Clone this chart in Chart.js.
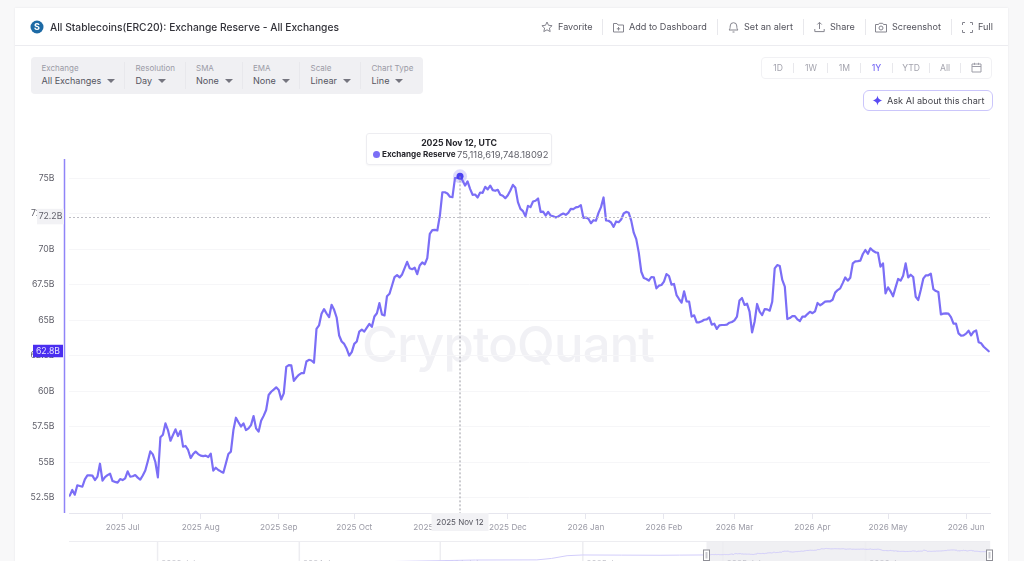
<!DOCTYPE html>
<html>
<head>
<meta charset="utf-8">
<title>All Stablecoins(ERC20): Exchange Reserve - All Exchanges</title>
<script src="https://cdn.jsdelivr.net/npm/chart.js@4"></script>
<style>
  html,body { margin:0; padding:0; width:1024px; height:561px; overflow:hidden; background:#f8f8f9; font-family:Inter,sans-serif; }
  #card { position:absolute; left:15px; top:8px; width:993px; height:560px; background:#fff; box-shadow:0 0 2px rgba(30,30,60,.08); }
  #head-rule { position:absolute; left:15px; top:45px; width:993px; height:1px; background:#ececf0; }
  #watermark { position:absolute; left:362px; top:312px; font-size:49px; font-weight:500; color:#f1f1f5; letter-spacing:-.8px; line-height:66px; }
  canvas { position:absolute; left:0; }
  #chart-main { top:0; }
  #chart-nav { left:69px; top:541px; }
  .t { position:absolute; white-space:nowrap; line-height:12px; }
  .act { font-size:9.1px; color:#53535c; top:21px; }
  .sep { position:absolute; width:1px; background:#e8e8ec; }
  .lab { font-size:8px; color:#9b9ba6; top:62px; }
  .val { font-size:9.05px; color:#55555f; top:75px; }
  .caret { position:absolute; top:79px; width:0; height:0; border-left:4px solid transparent; border-right:4px solid transparent; border-top:4px solid #75757f; }
  .rng { font-size:8.6px; color:#a4a4ae; top:62px; transform:translateX(-50%); }
  svg { position:absolute; fill:none; stroke:#85858e; stroke-width:1; }
  #controls { position:absolute; left:31px; top:57px; width:392px; height:37px; background:#f0f0f3; border-radius:4px; }
  #ranges { position:absolute; left:761px; top:57px; width:231px; height:22px; border:1px solid #f1f1f4; border-radius:4px; box-sizing:border-box; }
  #ask { position:absolute; left:863px; top:90px; width:130px; height:21px; border:1px solid #cbc6fb; border-radius:6px; box-sizing:border-box; }
  #tip { position:absolute; width:186px; height:32px; background:#fff; border:1px solid #ededf1; border-radius:3px; box-sizing:border-box; box-shadow:0 1px 2px rgba(30,30,60,.04); color:#26262c; font-size:8.7px; }
  #tip div { position:absolute; white-space:nowrap; line-height:11px; }
</style>
</head>
<body>
<div id="card"></div>
<div id="head-rule"></div>
<div id="watermark">CryptoQuant</div>
<canvas id="chart-main" width="1024" height="561"></canvas>
<canvas id="chart-nav" width="926" height="20"></canvas>

<svg style="left:30px;top:20px;stroke:none" width="14" height="14"><circle cx="7" cy="7" r="6.5" fill="#1d6aa5"/><text x="7" y="10.2" text-anchor="middle" font-size="9" font-weight="700" fill="#fff" font-family="Inter">S</text></svg>
<div class="t" style="left:50px;top:21px;font-size:10.25px;font-weight:500;color:#33333a">All Stablecoins(ERC20): Exchange Reserve - All Exchanges</div>

<svg style="left:541px;top:21px" width="12" height="12"><path d="M6 1l1.5 3.3 3.6.4-2.7 2.4.8 3.5L6 8.8l-3.2 1.8.8-3.5L.9 4.7l3.6-.4z"/></svg>
<div class="t act" style="left:558px">Favorite</div><div class="sep" style="left:602px;top:19px;height:16px"></div>
<svg style="left:613px;top:22px" width="11" height="11"><path d="M.5 1.5h3.5l1 1.5h5.5v7h-10zM5.5 5v3.5M3.8 6.8h3.4"/></svg>
<div class="t act" style="left:629px">Add to Dashboard</div><div class="sep" style="left:717px;top:19px;height:16px"></div>
<svg style="left:728px;top:21px" width="11" height="12"><path d="M1 9c1-1 1.2-2 1.2-4a3.3 3.3 0 0 1 6.6 0c0 2 .2 3 1.2 4zM4.5 11h2"/></svg>
<div class="t act" style="left:744px">Set an alert</div><div class="sep" style="left:803px;top:19px;height:16px"></div>
<svg style="left:814px;top:21px" width="11" height="12"><path d="M5.5 8V1.5M3.3 3.5l2.2-2.2 2.2 2.2M.8 8v2.6h9.4V8"/></svg>
<div class="t act" style="left:830px">Share</div><div class="sep" style="left:865px;top:19px;height:16px"></div>
<svg style="left:875px;top:22px" width="12" height="11"><path d="M.5 2.5h3l.8-1.2h3.4l.8 1.2h3v7.5h-11z"/><circle cx="6" cy="6" r="2"/></svg>
<div class="t act" style="left:892px">Screenshot</div><div class="sep" style="left:951px;top:19px;height:16px"></div>
<svg style="left:962px;top:22px" width="11" height="11"><path d="M.5 3V.5H3M8 .5h2.5V3M10.5 8v2.5H8M3 10.5H.5V8"/></svg>
<div class="t act" style="left:978px">Full</div>

<div id="controls"></div>
<div class="t lab" style="left:41.5px">Exchange</div><div class="t val" style="left:41.5px">All Exchanges</div><div class="caret" style="left:107px"></div>
<div class="sep" style="left:124px;top:62px;height:27px"></div>
<div class="t lab" style="left:135.5px">Resolution</div><div class="t val" style="left:135.5px">Day</div><div class="caret" style="left:158px"></div>
<div class="sep" style="left:185px;top:62px;height:27px"></div>
<div class="t lab" style="left:196px">SMA</div><div class="t val" style="left:196px">None</div><div class="caret" style="left:225px"></div>
<div class="sep" style="left:242px;top:62px;height:27px"></div>
<div class="t lab" style="left:253px">EMA</div><div class="t val" style="left:253px">None</div><div class="caret" style="left:282px"></div>
<div class="sep" style="left:299px;top:62px;height:27px"></div>
<div class="t lab" style="left:310.5px">Scale</div><div class="t val" style="left:310.5px">Linear</div><div class="caret" style="left:343px"></div>
<div class="sep" style="left:360px;top:62px;height:27px"></div>
<div class="t lab" style="left:371.5px">Chart Type</div><div class="t val" style="left:371.5px">Line</div><div class="caret" style="left:395px"></div>

<div id="ranges"></div>
<div class="t rng" style="left:778px">1D</div><div class="sep" style="left:793px;top:63px;height:10px"></div>
<div class="t rng" style="left:811px">1W</div><div class="sep" style="left:827px;top:63px;height:10px"></div>
<div class="t rng" style="left:844.5px">1M</div><div class="sep" style="left:860px;top:63px;height:10px"></div>
<div class="t rng" style="left:876.5px;color:#7b6ef6;font-weight:500">1Y</div><div class="sep" style="left:892px;top:63px;height:10px"></div>
<div class="t rng" style="left:911px">YTD</div><div class="sep" style="left:929px;top:63px;height:10px"></div>
<div class="t rng" style="left:945px">All</div><div class="sep" style="left:960px;top:63px;height:10px"></div>
<svg style="left:971px;top:62px;stroke:#9d9da7" width="11" height="11"><path d="M1 2h9v8H1zM1 4.5h9M3.5 .8v2M7.5 .8v2"/></svg>

<div id="ask"></div>
<svg style="left:872px;top:95px;stroke:none" width="11" height="11"><path d="M5.5 .5c.6 3 1.6 4.2 5 5-3.4.8-4.4 2-5 5-.6-3-1.6-4.2-5-5 3.4-.8 4.4-2 5-5z" fill="#5a4cf3"/></svg>
<div class="t" style="left:887px;top:94.5px;font-size:9.15px;color:#44444c">Ask AI about this chart</div>

<div id="tip">
  <div style="left:0;right:0;top:4px;text-align:center;font-weight:700">2025 Nov 12, UTC</div>
  <div style="left:6px;top:17px;width:7px;height:7px;border-radius:50%;background:#7b6ef6"></div>
  <div style="left:15px;top:15px;font-weight:700;font-size:8.15px">Exchange Reserve</div>
  <div style="left:90px;top:15px;color:#62626b;font-size:9.4px">75,118,619,748.18092</div>
</div>

<script>
// ─── Data ─────────────────────────────────────────────────────────────────────
// Daily reserve in billions, first entry is 2025 Jun 10
const RESERVE = [
  52.63,53.03,52.7,53.36,53.31,53.26,53.78,54.06,54.06,54.04,
  53.73,53.97,54.88,53.69,53.94,54.08,54.18,53.66,53.6,53.55,
  53.8,53.73,53.85,54.34,53.97,54.0,54.08,53.9,53.76,54.05,
  54.4,55.05,55.75,55.54,55.0,53.92,56.74,56.92,57.72,57.25,
  56.5,56.9,57.3,56.83,57.2,56.08,56.13,55.85,55.28,55.56,
  55.73,55.56,55.45,55.42,55.45,55.35,55.59,54.4,54.6,54.44,
  54.34,54.25,54.9,55.56,55.73,57.25,58.12,57.8,57.5,57.72,
  57.25,57.37,57.6,58.24,57.37,57.14,57.9,58.25,58.66,59.72,
  59.95,60.1,60.26,60.07,59.41,59.83,61.7,61.82,61.8,60.72,
  60.95,61.14,61.26,61.26,62.08,62.2,62.15,61.99,64.38,64.62,
  65.44,65.77,65.46,65.2,66.07,65.72,65.18,63.91,63.49,63.32,
  62.97,62.5,62.74,63.32,63.49,64.19,64.33,64.19,64.47,64.73,
  64.52,65.25,65.48,66.19,65.39,65.32,66.68,66.85,67.43,68.02,
  68.16,68.0,68.21,68.65,69.1,68.65,68.58,68.68,68.23,68.84,
  69.05,68.93,69.36,71.07,71.33,71.35,71.31,72.36,74.0,74.0,
  73.91,73.68,73.65,74.99,75.01,75.11861974818,74.83,74.47,74.76,74.24,
  73.82,73.84,73.63,73.98,73.96,74.38,74.2,74.47,74.15,74.1,
  74.17,73.82,73.75,73.58,73.79,74.12,74.52,74.31,73.3,72.83,
  72.67,72.31,73.04,72.95,73.35,73.4,73.56,72.62,72.64,72.36,
  72.62,72.36,72.31,72.22,72.29,72.41,72.5,72.41,72.55,72.83,
  72.81,72.93,72.97,73.09,72.2,72.22,72.13,71.82,72.03,71.99,
  72.55,72.95,73.63,72.01,71.99,71.87,71.56,71.94,71.89,72.08,
  72.5,72.62,72.55,72.0,71.15,70.7,69.75,68.4,67.96,67.89,
  67.77,68.03,68.0,67.23,67.42,67.47,67.7,68.24,68.1,67.49,
  67.54,66.76,66.48,66.22,67.02,66.31,66.29,65.24,65.33,64.84,
  64.84,64.91,65.02,65.05,65.19,64.67,64.74,64.37,64.62,64.65,
  64.65,64.67,64.81,64.86,64.98,65.24,66.38,66.55,66.06,66.15,
  65.59,64.13,64.88,66.13,65.59,65.35,65.77,65.75,65.66,66.29,
  68.64,68.87,68.8,67.82,67.35,65.07,65.14,65.28,65.28,65.05,
  64.93,65.24,65.24,65.42,65.58,65.48,65.61,66.2,66.04,66.15,
  66.29,66.31,66.31,66.43,66.93,67.11,67.23,67.6,68.0,67.77,
  67.98,68.99,69.13,69.15,69.18,69.65,69.93,69.67,70.05,69.88,
  69.77,69.74,68.76,68.99,66.88,67.3,67.02,66.67,67.3,67.89,
  67.77,68.12,68.99,68.0,68.19,68.03,66.64,66.41,67.11,67.91,
  68.15,68.15,68.26,67.18,67.04,66.97,65.4,65.45,65.47,65.45,
  65.21,64.74,64.74,64.06,63.9,63.92,64.04,64.25,63.92,64.18,
  64.27,63.43,63.36,63.12,62.96,62.8,
];

const Y_TICKS = [52.5,55,57.5,60,62.5,65,67.5,70,72.5,75];
const MONTH_DAYS = [21,52,83,113,144,174,205,236,264,295,325,356];
const MONTH_LABELS = ['2025 Jul','2025 Aug','2025 Sep','2025 Oct','2025 Nov','2025 Dec','2026 Jan','2026 Feb','2026 Mar','2026 Apr','2026 May','2026 Jun'];

const HOVER_DAY = 155;
const HOVER_LABEL = '2025 Nov 12';
const HOVER_LEVEL = 72.2;
const LAST_DAY = RESERVE.length - 1;

// Older history shown only in the range navigator (days before the first entry)
const HISTORY_DAYS = [-420,-298,-219,-200,-180,-160,-110,-60,-35];
const HISTORY_VALUES = [29,35,35.5,40.5,50,52.5,52,51.5,52];
const NAV_TICK_DAYS = [-709,-526,-344,-160,21,205];
const NAV_TICK_LABELS = ['2023 Jul','2024 Jan','2024 Jul','2025 Jan','2025 Jul','2026 Jan'];

// ─── Style ────────────────────────────────────────────────────────────────────
const LINE_COLOR = '#7b6ef6';
const GRID_COLOR = '#f6f6f8';
const AXIS_COLOR = '#e6e6ee';
const TICK_STYLE = { color:'#60606a', font:{family:'Inter', size:8.7} };

// Axis rail, crosshair and the readout boxes on both axes
const overlayPlugin = {
  id:'overlay',
  afterDatasetsDraw(chart) {
    const { ctx, chartArea:a, scales:{x,y} } = chart;
    const px = x.getPixelForValue(HOVER_DAY), py = y.getPixelForValue(HOVER_LEVEL);
    ctx.save();
    ctx.strokeStyle = '#9a9aa2'; ctx.lineWidth = 1; ctx.setLineDash([2,2]);
    ctx.beginPath();
    ctx.moveTo(px, y.getPixelForValue(RESERVE[HOVER_DAY]));
    ctx.lineTo(px, a.bottom);
    ctx.stroke();
    ctx.strokeStyle = '#bdbdc4';
    ctx.beginPath();
    ctx.moveTo(a.left, Math.round(py)-.5);
    ctx.lineTo(a.right, Math.round(py)-.5);
    ctx.stroke();
    ctx.setLineDash([]);
    ctx.strokeStyle = '#8f84f8'; ctx.lineWidth = 1.5;
    ctx.beginPath(); ctx.moveTo(a.left-4.5, a.top-1); ctx.lineTo(a.left-4.5, a.bottom); ctx.stroke();

    ctx.textAlign = 'center'; ctx.textBaseline = 'middle'; ctx.font = '8.7px Inter';
    const lastY = y.getPixelForValue(RESERVE[LAST_DAY]);
    ctx.fillStyle = '#f2f2f5'; ctx.fillRect(37, py-9, 27, 15.5);
    ctx.fillStyle = '#60606a'; ctx.fillText(HOVER_LEVEL.toFixed(1)+'B', 50.5, py-1);
    ctx.fillStyle = '#4a2ef0'; ctx.fillRect(33, lastY-6.5, 30, 12.5);
    ctx.fillStyle = '#e6e3ff'; ctx.fillText(RESERVE[LAST_DAY].toFixed(1)+'B', 48, lastY);
    ctx.fillStyle = '#f2f2f5'; ctx.fillRect(px-28.5, a.bottom, 57, 18);
    ctx.font = '8px Inter';
    ctx.fillStyle = '#55555f'; ctx.fillText(HOVER_LABEL, px, a.bottom+9.5);
    ctx.restore();
  }
};

// ─── Main chart ───────────────────────────────────────────────────────────────
const mainChart = new Chart(document.getElementById('chart-main').getContext('2d'), {
  type:'line',
  data:{ datasets:[
    {
      data: RESERVE.map((v,i)=>({x:i, y:v})),
      borderColor: LINE_COLOR, borderWidth:2.2, borderJoinStyle:'round', borderCapStyle:'round', tension:0,
      pointRadius: c => c.dataIndex===HOVER_DAY ? 3.5 : 0,
      pointBackgroundColor:'#4a3ff0',
      pointBorderWidth:0,
    },
    {
      // halo behind the hovered point
      data: [{x:HOVER_DAY, y:RESERVE[HOVER_DAY]}],
      showLine:false, pointRadius:7, pointBorderWidth:0,
      pointBackgroundColor:'rgba(123,110,246,0.25)',
    },
  ]},
  options:{
    responsive:false, animation:false, events:[],
    layout:{ padding:{ top:160, right:34, bottom:0, left:0 } },
    plugins:{ legend:{display:false}, tooltip:{enabled:false} },
    scales:{
      x:{
        type:'linear', bounds:'data', min:-0.3, max:365.5,
        afterBuildTicks: s => { s.ticks = MONTH_DAYS.map(v=>({value:v})); },
        afterFit: s => { s.height = 48; },
        ticks:{ color:'#9b9ba6', font:{family:'Inter', size:8.2}, padding:4, maxRotation:0, autoSkip:false,
          callback:(v,i)=>MONTH_LABELS[i] },
        grid:{ drawOnChartArea:false, color:AXIS_COLOR, tickLength:6 },
        border:{ color:AXIS_COLOR },
      },
      y:{
        bounds:'data', min:51.41, max:76.27,
        afterBuildTicks: s => { s.ticks = Y_TICKS.map(v=>({value:v})); },
        afterFit: s => { s.width = 69; },
        ticks:{ ...TICK_STYLE, padding:14.5, callback:v=>v+'B' },
        grid:{ color:GRID_COLOR, drawTicks:false, tickLength:0 },
        border:{ display:false },
      },
    },
  },
  plugins:[overlayPlugin],
});

// Tooltip card sits above the hovered point
const tip = document.getElementById('tip');
tip.style.left = (mainChart.scales.x.getPixelForValue(HOVER_DAY) - 94) + 'px';
tip.style.top = '133px';

// ─── Range navigator ──────────────────────────────────────────────────────────
const navPlugin = {
  id:'navBand',
  beforeDatasetsDraw(chart) {
    const { ctx, chartArea:a, scales:{x} } = chart;
    const l = x.getPixelForValue(0), r = x.getPixelForValue(LAST_DAY);
    ctx.save();
    ctx.fillStyle = '#f0f0f3'; ctx.fillRect(l, a.top, r-l+1, a.bottom-a.top);
    ctx.fillStyle = '#ededf1';
    NAV_TICK_DAYS.forEach(d => ctx.fillRect(x.getPixelForValue(d)-.5, 0, 1.5, 20));
    ctx.fillStyle = '#c4c4cc'; ctx.font = '8.2px Inter'; ctx.textBaseline = 'top';
    NAV_TICK_DAYS.forEach((d,i) => ctx.fillText(NAV_TICK_LABELS[i], x.getPixelForValue(d)+4, 18));
    ctx.restore();
  },
  afterDatasetsDraw(chart) {
    const { ctx, scales:{x} } = chart;
    ctx.save();
    [0, LAST_DAY].forEach(d => {
      const hx = Math.round(x.getPixelForValue(d))+.5;
      ctx.fillStyle = '#fff'; ctx.strokeStyle = '#8e8e96'; ctx.lineWidth = 1;
      ctx.fillRect(hx-3, 9, 6, 10.5); ctx.strokeRect(hx-3, 9, 6, 10.5);
      ctx.fillStyle = '#c9c9d0'; ctx.fillRect(hx-1, 11, 2, 6.5);
    });
    ctx.fillStyle = '#ededf1'; ctx.fillRect(0, 0, 921, 1);
    ctx.restore();
  }
};

new Chart(document.getElementById('chart-nav').getContext('2d'), {
  type:'line',
  data:{ datasets:[{
    data: HISTORY_DAYS.map((d,i)=>({x:d, y:HISTORY_VALUES[i]})).concat(RESERVE.map((v,i)=>({x:i, y:v}))),
    borderColor:'#d2cdfb', borderWidth:1, pointRadius:0, tension:0,
  }]},
  options:{
    responsive:false, animation:false, events:[],
    layout:{ padding:{ right:5 } },
    plugins:{ legend:{display:false}, tooltip:{enabled:false} },
    scales:{
      x:{ type:'linear', bounds:'data', min:-823, max:366, display:false },
      y:{ bounds:'data', min:31.6, max:101, display:false },
    },
  },
  plugins:[navPlugin],
});
</script>
</body>
</html>
